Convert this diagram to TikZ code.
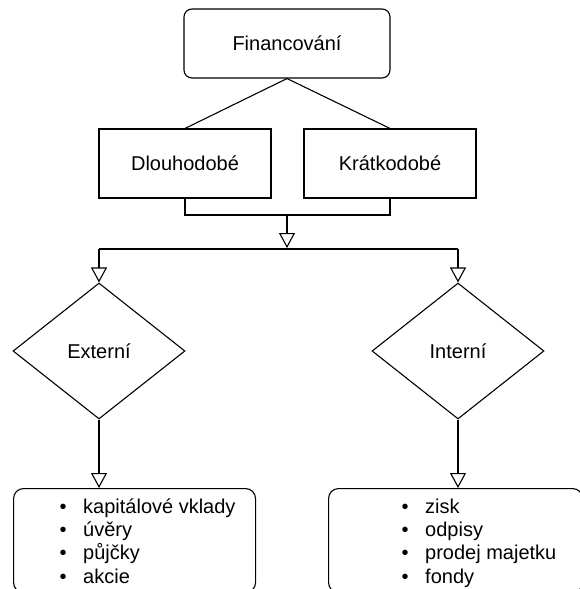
\documentclass[tikz,border=0pt]{standalone}
\usepackage{fontspec}
\setmainfont{Liberation Sans}
\usetikzlibrary{shapes.geometric,arrows.meta}
\begin{document}
\begin{tikzpicture}[x=1pt,y=-1pt,
 every node/.style={font=\fontsize{20}{23}\selectfont},
 box/.style={draw,line width=1.1pt,inner sep=0pt},
 dec/.style={draw,diamond,line width=1.1pt,minimum width=172pt,minimum height=136pt,inner sep=0pt,aspect=1.265},
 conn/.style={line width=1.1pt},
 arr/.style={conn,-{Triangle[open,length=15pt,width=16pt,line width=1.1pt]}}]
\useasboundingbox (0,0) rectangle (579,589);
\node[box,rounded corners=8pt,minimum width=206pt,minimum height=69pt] (fin) at (287,43.5) {Financování};
\node[box,minimum width=172pt,minimum height=69pt] (dl) at (185,163.5) {Dlouhodobé};
\node[box,minimum width=172pt,minimum height=69pt] (kr) at (390,163.5) {Krátkodobé};
\draw[conn] (dl.north) -- (fin.south) -- (kr.north);
\coordinate (j) at (287,215);
\draw[conn] (dl.south) |- (j) -| (kr.south);
\coordinate (jb) at (287,248);
\draw[arr] (j) -- (jb);
\coordinate (hl) at (99,249);
\coordinate (hr) at (458,249);
\draw[conn] (hl) -- (hr);
\node[dec] (ext) at (99,351) {Externí};
\node[dec] (int) at (458,351) {Interní};
\draw[arr] (hl) -- (ext.north);
\draw[arr] (hr) -- (int.north);
\node[box,rounded corners=10pt,minimum width=242pt,minimum height=104pt,anchor=north west] (lb) at (13,488) {};
\node[box,rounded corners=10pt,minimum width=254pt,minimum height=104pt,anchor=north west] (rb) at (328,488) {};
\draw[arr] (ext.south) -- (ext.south |- lb.north);
\draw[arr] (int.south) -- (int.south |- rb.north);
\foreach \t [count=\i] in {kapitálové vklady, úvěry, půjčky, akcie} {
  \node[anchor=base,inner sep=0pt] (lbul\i) at (63,{490+23.3*\i}) {•};
  \node[anchor=base west,inner sep=0pt] (lt\i) at (83,{490+23.3*\i}) {\t};
}
\foreach \t [count=\i] in {zisk, odpisy, prodej majetku, fondy} {
  \node[anchor=base,inner sep=0pt] (rbul\i) at (405,{490+23.3*\i}) {•};
  \node[anchor=base west,inner sep=0pt] (rt\i) at (425,{490+23.3*\i}) {\t};
}
\end{tikzpicture}
\end{document}
